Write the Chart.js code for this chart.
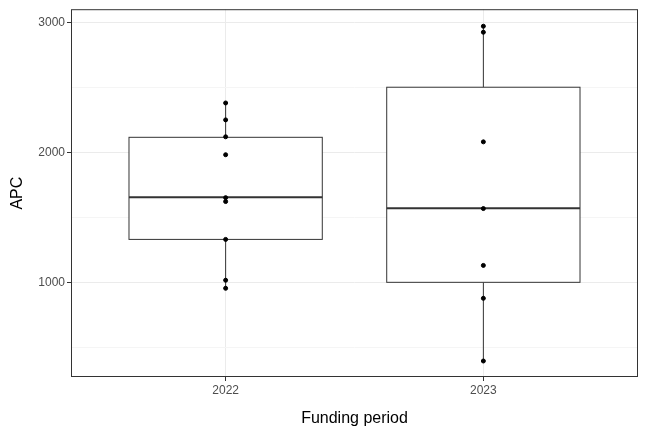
<!DOCTYPE html>
<html><head><script src="https://cdn.jsdelivr.net/npm/chart.js@4"></script>
<style>body{margin:0;background:#fff}</style></head>
<body><div style="width:648px;height:432px"><canvas id="c"></canvas></div>
<script>
const categories = ['2022','2023'];
const points2022 = [2379,2249,2119,1981,1651,1621,1330,1016,954];
const points2023 = [2969,2923,2080,1567,1130,877,395];
const q1 = [1330,1000];
const medians = [1655,1570];
const q3 = [2115,2500];
const whiskLo = [954,395];
const whiskHi = [2379,2969];
const yTicks = [500,1000,1500,2000,2500,3000];

const pts = [];
points2022.forEach(v=>pts.push({x:1,y:v}));
points2023.forEach(v=>pts.push({x:2,y:v}));

const boxPlugin = {
  id:'box',
  beforeDatasetsDraw(chart){
    const {ctx, scales:{x,y}} = chart;
    ctx.save();
    ctx.strokeStyle='#333'; ctx.lineWidth=1;
    categories.forEach((c,i)=>{
      const cx = x.getPixelForValue(i+1);
      const hw = (x.getPixelForValue(1.375)-x.getPixelForValue(1));
      ctx.beginPath();
      ctx.moveTo(cx,y.getPixelForValue(whiskLo[i])); ctx.lineTo(cx,y.getPixelForValue(q1[i]));
      ctx.moveTo(cx,y.getPixelForValue(q3[i])); ctx.lineTo(cx,y.getPixelForValue(whiskHi[i]));
      ctx.stroke();
      const t=y.getPixelForValue(q3[i]), b=y.getPixelForValue(q1[i]);
      ctx.fillStyle='#fff';
      ctx.fillRect(cx-hw,t,2*hw,b-t);
      ctx.strokeRect(cx-hw,t,2*hw,b-t);
      ctx.lineWidth=2;
      ctx.beginPath();
      const m=y.getPixelForValue(medians[i]);
      ctx.moveTo(cx-hw,m); ctx.lineTo(cx+hw,m); ctx.stroke();
      ctx.lineWidth=1;
    });
    ctx.restore();
  },
  afterDraw(chart){
    const {ctx, chartArea:a} = chart;
    ctx.save(); ctx.strokeStyle='#333'; ctx.lineWidth=1;
    ctx.strokeRect(a.left+0.5,a.top+0.5,a.right-a.left-1,a.bottom-a.top-1);
    ctx.restore();
  }
};

new Chart(document.getElementById('c'),{
  type:'scatter',
  data:{datasets:[{data:pts,backgroundColor:'#000',borderColor:'#000',pointRadius:2,pointHoverRadius:2}]},
  options:{
    responsive:true,maintainAspectRatio:false,animation:false,
    layout:{padding:{top:8,right:10,left:4}},
    plugins:{legend:{display:false},tooltip:{enabled:false}},
    scales:{
      x:{type:'linear',min:0.4,max:2.6,
        afterBuildTicks(s){s.ticks=[{value:1},{value:2}];},
        afterFit(s){s.height=55;},
        ticks:{callback:v=>categories[v-1],color:'#4d4d4d',font:{family:'Liberation Sans',size:12},padding:2},
        grid:{color:'#ebebeb',tickColor:'#333',tickLength:4},
        border:{display:false},
        title:{display:true,text:'Funding period',color:'#000',font:{family:'Liberation Sans',size:16},padding:{top:0}}
      },
      y:{min:272,max:3100,
        afterBuildTicks(s){s.ticks=yTicks.map(v=>({value:v}));},
        afterFit(s){s.width=67;},
        ticks:{callback:v=>v%1000===0?String(v):'',color:'#4d4d4d',font:{family:'Liberation Sans',size:12},padding:2},
        grid:{color:c=>c.tick&&c.tick.value%1000===0?'#ebebeb':'#f5f5f5',
              tickColor:c=>c.tick&&c.tick.value%1000===0?'#333':'rgba(0,0,0,0)',tickLength:4},
        border:{display:false},
        title:{display:true,text:'APC',color:'#000',font:{family:'Liberation Sans',size:16}}
      }
    }
  },
  plugins:[boxPlugin]
});
</script></body></html>
